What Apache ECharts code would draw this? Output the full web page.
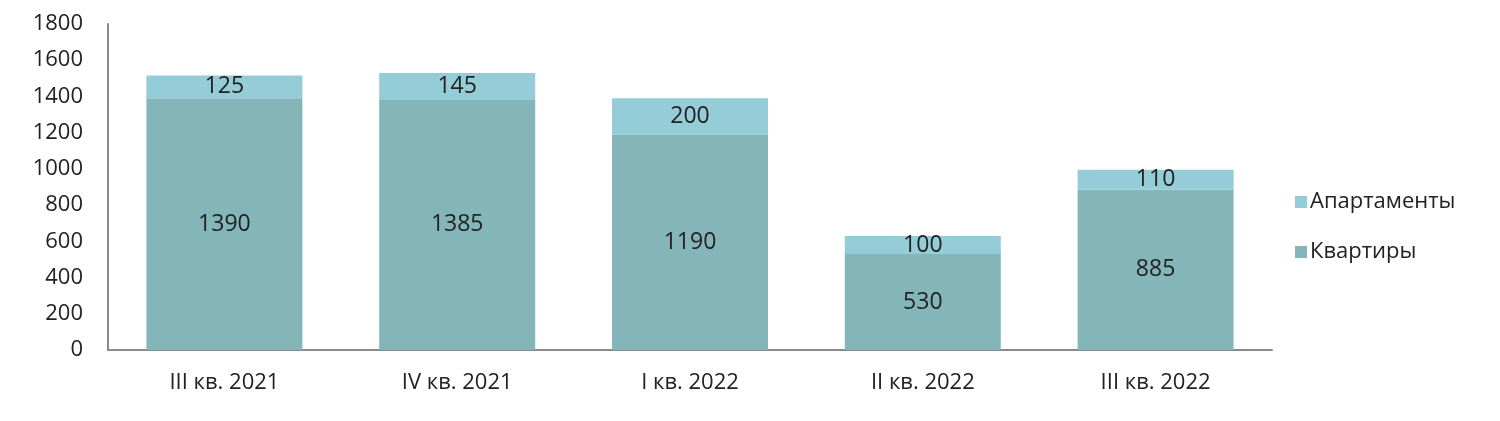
<!DOCTYPE html>
<html><head><meta charset="utf-8">
<script src="https://cdn.jsdelivr.net/npm/echarts@6/dist/echarts.min.js"></script>
<style>html,body{margin:0;padding:0;background:#fff}#c{width:1500px;height:421px}</style>
</head><body><div id="c"></div>
<script>
const categories = ['III кв. 2021', 'IV кв. 2021', 'I кв. 2022', 'II кв. 2022', 'III кв. 2022'];
const flats = [1390, 1385, 1190, 530, 885];
const apartments = [125, 145, 200, 100, 110];
const yTicks = [0, 200, 400, 600, 800, 1000, 1200, 1400, 1600, 1800];

const FONT = '"Open Sans", "Noto Sans", sans-serif';
const chart = echarts.init(document.getElementById('c'));
chart.setOption({
  animation: false,
  textStyle: { fontFamily: FONT },
  grid: { left: 108, right: 228, top: 24, bottom: 71 },
  legend: {
    orient: 'vertical', left: 1290, top: 186, itemGap: 28,
    itemWidth: 12, itemHeight: 12, icon: 'rect',
    data: ['Апартаменты', 'Квартиры'],
    textStyle: { fontSize: 22, color: '#222', fontFamily: FONT, padding: [0, 0, 0, -2] }
  },
  xAxis: {
    type: 'category', data: categories,
    axisLine: { lineStyle: { color: '#8a8a8a', width: 2 } },
    axisTick: { show: false },
    axisLabel: { fontSize: 22, color: '#222', margin: 22, fontFamily: FONT }
  },
  yAxis: {
    type: 'value', min: yTicks[0], max: yTicks[yTicks.length - 1], interval: 200,
    axisLine: { show: true, lineStyle: { color: '#8a8a8a', width: 2 } },
    axisTick: { show: false },
    splitLine: { show: false },
    axisLabel: { fontSize: 22, color: '#222', margin: 25, fontFamily: FONT, formatter: v => String(v) }
  },
  series: [
    {
      name: 'Квартиры', type: 'bar', stack: 'a', data: flats, barWidth: '67%',
      itemStyle: { color: '#83b5b9' },
      label: { show: true, position: 'inside', fontSize: 23, color: '#222', fontFamily: FONT }
    },
    {
      name: 'Апартаменты', type: 'bar', stack: 'a', data: apartments, barWidth: '67%',
      itemStyle: { color: '#94ccd7' },
      label: { show: true, position: 'inside', fontSize: 23, color: '#222', fontFamily: FONT }
    }
  ]
});
</script></body></html>
